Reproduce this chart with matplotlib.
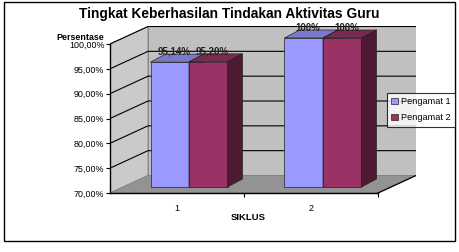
import numpy as np
import matplotlib
matplotlib.use('Agg')
import matplotlib.pyplot as plt
from matplotlib.patches import Polygon, Rectangle, Patch

# data
categories = ['1', '2']
series_names = ['Pengamat 1', 'Pengamat 2']
pengamat1 = [95.14, 100.0]
pengamat2 = [95.20, 100.0]
labels1 = ['95,14%', '100%']
labels2 = ['95,20%', '100%']
yticks = [70, 75, 80, 85, 90, 95, 100]
ytick_labels = ['70,00%', '75,00%', '80,00%', '85,00%', '90,00%', '95,00%', '100,00%']

plt.rcParams['font.family'] = ['Liberation Sans', 'DejaVu Sans']

W, H = 459, 252
fig = plt.figure(figsize=(W / 100, H / 100), dpi=100)

# pixel layout of front plane
px_left, px_right = 110, 378
px_y70, px_y100 = 193, 44
sx = (px_right - px_left) / 2.0          # px per category unit
sy = (px_y70 - px_y100) / 30.0           # px per percent
dx_box, dy_box = 38 / sx, 17.5 / sy      # depth of the 3d box
bx, by = 12 / sx, 6 / sy                 # bar front offset
ddx, ddy = 15 / sx, 8 / sy               # bar depth
w = 38.5 / sx                            # bar width

xmin, xmax = 0.5, 2.5 + dx_box
ymin, ymax = 70, 100 + dy_box
ax_w = (xmax - xmin) * sx
ax_h = (ymax - ymin) * sy
ax = fig.add_axes([px_left / W, (H - px_y70) / H, ax_w / W, ax_h / H])
ax.set_xlim(xmin, xmax)
ax.set_ylim(ymin, ymax)
ax.patch.set_visible(False)
for s in ['top', 'right']:
    ax.spines[s].set_visible(False)

# walls and floor
x0, x1 = 0.5, 2.5
back = Rectangle((x0 + dx_box, 70 + dy_box), x1 - x0, 30, fc='#c0c0c0', ec='#808080', lw=0.6, zorder=0)
side = Polygon([(x0, 70), (x0, 100), (x0 + dx_box, 100 + dy_box), (x0 + dx_box, 70 + dy_box)],
               closed=True, fc='#cacaca', ec='#808080', lw=0.6, zorder=0)
floor = Polygon([(x0, 70), (x1, 70), (x1 + dx_box, 70 + dy_box), (x0 + dx_box, 70 + dy_box)],
                closed=True, fc='#939393', ec='#808080', lw=0.6, zorder=0)
for p in [back, side, floor]:
    ax.add_patch(p)
ax.plot([x1, x1 + dx_box], [70, 70 + dy_box], color='black', lw=0.9, zorder=1)

# gridlines
for t in yticks[1:]:
    ax.plot([x0, x0 + dx_box, x1 + dx_box], [t, t + dy_box, t + dy_box], color='black', lw=0.8, zorder=1)

# bars
xs = np.arange(1, len(categories) + 1)
fronts = [('#9999ff', '#7a7acc', '#5c5c99'), ('#993366', '#7a2952', '#4d1a33')]
for k, (vals, labs) in enumerate([(pengamat1, labels1), (pengamat2, labels2)]):
    left = xs - w + k * w + bx
    front_c, top_c, side_c = fronts[k]
    ax.bar(left, np.array(vals) - 70, bottom=70 + by, width=w, align='edge',
           color=front_c, edgecolor='#222222', lw=0.5, zorder=3 + k)
    for lx, v, lab in zip(left, vals, labs):
        top = v + by
        ax.add_patch(Polygon([(lx, top), (lx + w, top), (lx + w + ddx, top + ddy), (lx + ddx, top + ddy)],
                             closed=True, fc=top_c, ec='#222222', lw=0.5, zorder=3 + k))
        ax.add_patch(Polygon([(lx + w, 70 + by), (lx + w, top), (lx + w + ddx, top + ddy),
                              (lx + w + ddx, 70 + by + ddy)],
                             closed=True, fc=side_c, ec='#222222', lw=0.5, zorder=3 + k))
        ax.text(lx + w / 2 + 0.03, top + ddy + 0.5, lab, ha='center', va='center',
                fontsize=7.0, fontweight='bold', color='#222222', zorder=6)

# axes
ax.spines['left'].set_bounds(70, 100)
ax.spines['bottom'].set_bounds(x0, x1)
ax.spines['left'].set_linewidth(1.0)
ax.spines['bottom'].set_linewidth(1.0)
ax.set_yticks(yticks)
ax.set_yticklabels(ytick_labels, fontsize=6.4)
ax.tick_params(axis='y', direction='out', length=3, width=0.8, pad=1)
ax.set_xticks(xs)
ax.set_xticklabels(categories, fontsize=6.5)
ax.tick_params(axis='x', which='major', length=0, pad=8)
ax.set_xticks([1.5, 2.5], minor=True)
ax.tick_params(axis='x', which='minor', direction='out', length=3, width=0.8)

# texts
fig.text(229 / W, 1 - 14 / H, 'Tingkat Keberhasilan Tindakan Aktivitas Guru', ha='center', va='center',
         fontsize=9.9, fontweight='bold')
fig.text(104 / W, 1 - 37 / H, 'Persentase', ha='right', va='center', fontsize=6.4, fontweight='bold')
fig.text(248 / W, 1 - 217 / H, 'SIKLUS', ha='center', va='center', fontsize=6.8, fontweight='bold')

# legend
handles = [Patch(fc=fronts[i][0], ec='#222222', lw=0.5, label=series_names[i]) for i in range(2)]
leg = fig.legend(handles=handles, loc='upper left', bbox_to_anchor=(387 / W, 1 - 93 / H),
                 fontsize=6.6, frameon=True, fancybox=False, edgecolor='black',
                 handlelength=0.7, handleheight=0.7, handletextpad=0.4, borderpad=0.45,
                 labelspacing=0.8, borderaxespad=0)
leg.get_frame().set_linewidth(0.8)

# outer border
fig.patches.append(Rectangle((4 / W, 1 - 241 / H), 451 / W, 239 / H, transform=fig.transFigure,
                             fill=False, ec='black', lw=1.0))

fig.savefig('out.png', dpi=100)
